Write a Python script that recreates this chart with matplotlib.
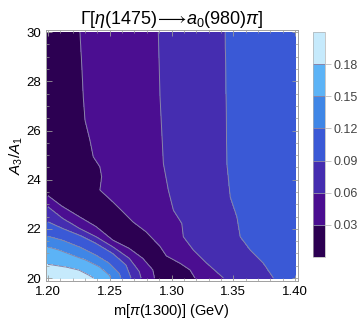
import numpy as np
import matplotlib
matplotlib.use("Agg")
import matplotlib.pyplot as plt

plt.rcParams['font.family'] = ['Liberation Sans', 'DejaVu Sans']
plt.rcParams['mathtext.fontset'] = 'custom'
plt.rcParams['mathtext.rm'] = 'Liberation Sans'
plt.rcParams['mathtext.it'] = 'Liberation Sans:italic'

# contour levels and band colours
levels = [0.0, 0.03, 0.06, 0.09, 0.12, 0.15, 0.18, 0.21]
band_colors = ['#2c0052', '#4b0e91', '#452db0', '#3a59d6', '#3f86e6', '#5cb3f6', '#c6eafc']
cbar_ticks = [0.03, 0.06, 0.09, 0.12, 0.15, 0.18]

# contour crossings (y ascending)
# left side curves (value drops as x grows)
c18_y = [20.0, 20.12, 20.33, 20.45, 20.56]
c18_x = [1.2372, 1.2332, 1.2251, 1.2146, 1.2000]
c15_y = [20.0, 20.12, 20.46, 20.73, 20.93, 21.14, 21.27]
c15_x = [1.251, 1.2496, 1.2416, 1.231, 1.220, 1.209, 1.200]
c12_y = [20.0, 20.19, 20.6, 20.93, 21.27, 21.54, 21.7]
c12_x = [1.259, 1.2577, 1.2496, 1.2389, 1.2254, 1.2119, 1.200]
c09l_y = [20.0, 20.53, 21.0, 21.41, 21.75, 22.02, 22.29]
c09l_x = [1.2672, 1.2632, 1.2524, 1.2389, 1.2254, 1.2119, 1.200]
c06l_y = [20.0, 20.26, 20.8, 21.27, 21.68, 22.02, 22.43, 22.9]
c06l_x = [1.2753, 1.2739, 1.2658, 1.2524, 1.2389, 1.2254, 1.2119, 1.200]
c03l_y = [20.0, 20.33, 20.8, 21.2, 21.54, 22.09, 22.49, 22.9, 23.35]
c03l_x = [1.2861, 1.2848, 1.2767, 1.2658, 1.2524, 1.2389, 1.2254, 1.2119, 1.200]

# right side curves (value grows with x)
c03r_y = [20.0, 20.33, 20.6, 20.9, 21.3, 21.88, 22.29, 22.7, 23.1, 23.58, 24.12,
          24.52, 24.93, 25.61, 26.42, 27.37, 28.73, 30.0]
c03r_x = [1.319, 1.315, 1.3069, 1.2958, 1.2905, 1.2794, 1.2686, 1.2605, 1.2524, 1.2421,
          1.2435, 1.2421, 1.2367, 1.2340, 1.2300, 1.2286, 1.2273, 1.2259]
c06r_y = [20.0, 20.6, 21.14, 21.68, 22.22, 22.76, 23.58, 24.66, 27.37, 30.0]
c06r_x = [1.3420, 1.3285, 1.3176, 1.3095, 1.3083, 1.3015, 1.2974, 1.2934, 1.2907, 1.2893]
c09r_y = [20.0, 20.6, 21.14, 21.68, 22.49, 23.3, 24.66, 28.05, 30.0]
c09r_x = [1.3824, 1.3743, 1.3636, 1.3555, 1.3528, 1.3474, 1.3447, 1.3439, 1.3433]

left_curves = [(0.18, c18_y, c18_x), (0.15, c15_y, c15_x), (0.12, c12_y, c12_x),
               (0.09, c09l_y, c09l_x), (0.06, c06l_y, c06l_x), (0.03, c03l_y, c03l_x)]
right_curves = [(0.03, c03r_y, c03r_x), (0.06, c06r_y, c06r_x), (0.09, c09r_y, c09r_x)]

# build a field whose level sets follow the read curves
xs = np.linspace(1.2, 1.4, 401)
ys = np.linspace(20, 30, 401)
Z = np.zeros((len(ys), len(xs)))
for i, y in enumerate(ys):
    kx, kz = [], []
    present = [(lv, np.interp(y, cy, cx)) for lv, cy, cx in left_curves if y <= max(cy)]
    if present:
        kx.append(1.18); kz.append(present[0][0] + 0.015)
        for lv, x in present:
            kx.append(x); kz.append(lv)
    else:
        kx.append(1.18); kz.append(0.015)
    right = [(lv, np.interp(y, cy, cx)) for lv, cy, cx in right_curves]
    if present:
        kx.append(0.5 * (kx[-1] + right[0][1])); kz.append(0.015)
    for lv, x in right:
        kx.append(x); kz.append(lv)
    kx.append(1.42); kz.append(0.105)
    order = np.argsort(kx, kind='stable')
    Z[i] = np.interp(xs, np.array(kx)[order], np.array(kz)[order])

fig = plt.figure(figsize=(3.57, 3.27), dpi=100)
ax = fig.add_axes([0.1275, 0.1422, 0.706, 0.767])

cf = ax.contourf(xs, ys, Z, levels=levels, colors=band_colors)
cl = ax.contour(xs, ys, Z, levels=cbar_ticks, colors='#8a84a8', linewidths=0.7)

ax.set_xlim(1.198, 1.402)
ax.set_ylim(19.9, 30.1)
ax.set_xticks([1.20, 1.25, 1.30, 1.35, 1.40])
ax.set_xticklabels(['1.20', '1.25', '1.30', '1.35', '1.40'])
ax.set_xticks(np.arange(1.20, 1.401, 0.01), minor=True)
ax.set_yticks([20, 22, 24, 26, 28, 30])
ax.set_yticks(np.arange(20, 30.01, 0.5), minor=True)
ax.tick_params(which='both', direction='in', top=True, right=True, color='#9a9a9a',
               labelsize=9.5)
ax.tick_params(axis='x', pad=4)
ax.tick_params(axis='y', pad=3)
ax.tick_params(which='major', length=4, width=0.6)
ax.tick_params(which='minor', length=2, width=0.5)
for s in ax.spines.values():
    s.set_color('#a0a0a0')
    s.set_linewidth(0.7)

ax.set_title(r'$\Gamma[\eta(1475)\!\longrightarrow\! a_0(980)\pi]$', fontsize=13, pad=4)
ax.set_xlabel(r'm[$\pi$(1300)] (GeV)', fontsize=10.5, labelpad=3)
ax.set_ylabel(r'$A_3/A_1$', fontsize=11, labelpad=1)

cax = fig.add_axes([0.877, 0.214, 0.034, 0.688])
cb = fig.colorbar(cf, cax=cax, ticks=cbar_ticks)
cb.add_lines(cl)
cb.outline.set_edgecolor('#b0b0b0')
cb.outline.set_linewidth(0.5)
cax.tick_params(length=4, width=0.5, color='#b0b0b0', labelsize=9, labelcolor='#444444', pad=2)
cax.set_yticklabels(['0.03', '0.06', '0.09', '0.12', '0.15', '0.18'])

fig.savefig('out.png', dpi=100)
